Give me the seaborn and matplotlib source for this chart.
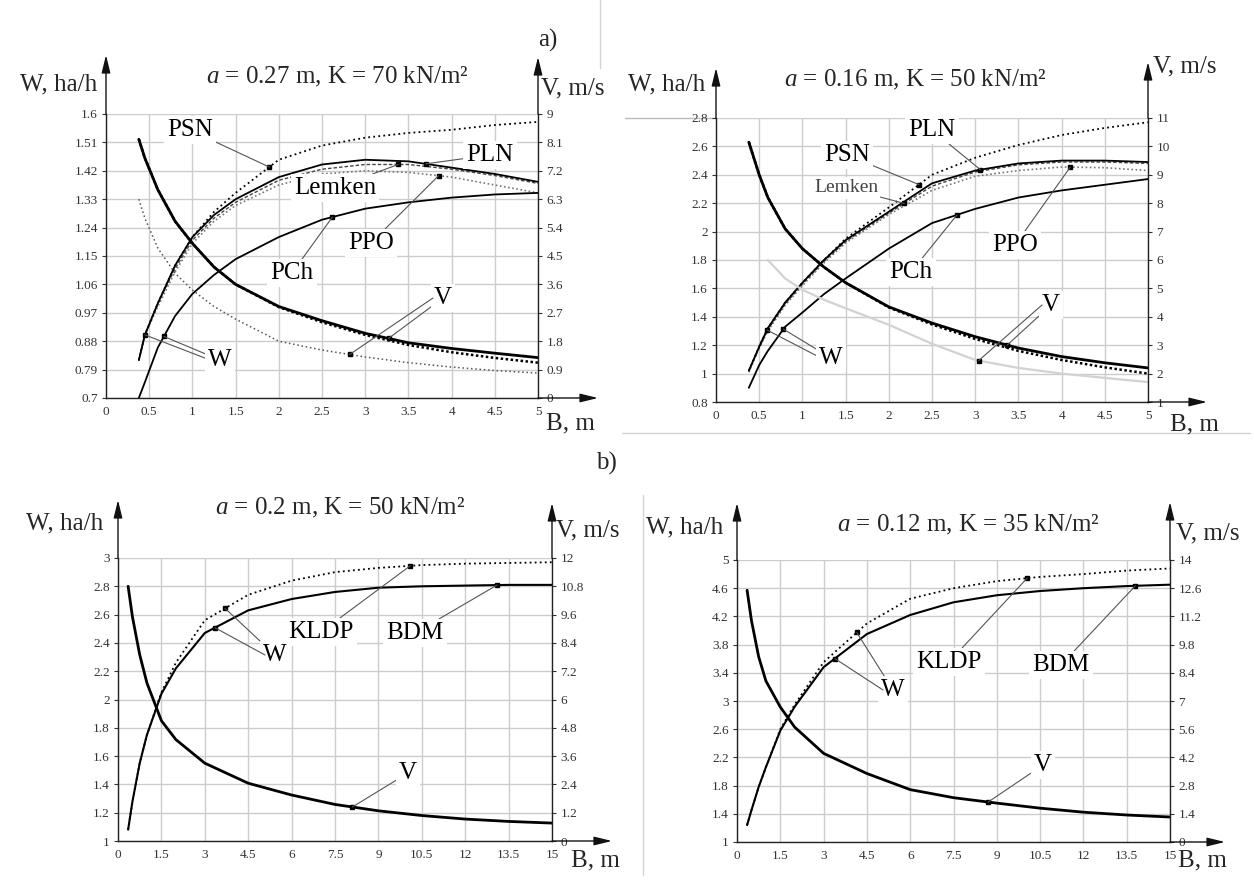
import numpy as np
import matplotlib
matplotlib.use("Agg")
import matplotlib.pyplot as plt
import seaborn as sns

# ---------------- data: a) left, a = 0.27 m, K = 70 kN/m2
a1_B = [0.38, 0.45, 0.6, 0.8, 1.0, 1.25, 1.5, 2.0, 2.5, 3.0, 3.5, 4.0, 4.5, 5.0]
a1_W_PSN = [0.82, 0.90, 1.00, 1.12, 1.21, 1.29, 1.35, 1.455, 1.50, 1.525, 1.54, 1.55, 1.565, 1.575]
a1_W_PLN = [0.82, 0.90, 1.00, 1.12, 1.21, 1.28, 1.33, 1.40, 1.44, 1.455, 1.45, 1.43, 1.41, 1.385]
a1_W_Lemken = [0.82, 0.90, 1.00, 1.11, 1.20, 1.27, 1.32, 1.39, 1.425, 1.44, 1.44, 1.425, 1.405, 1.38]
a1_W_PPO = [0.82, 0.90, 0.99, 1.10, 1.19, 1.26, 1.31, 1.375, 1.41, 1.42, 1.415, 1.40, 1.375, 1.35]
a1_W_PCh = [0.70, 0.75, 0.86, 0.96, 1.03, 1.09, 1.14, 1.21, 1.265, 1.30, 1.32, 1.335, 1.345, 1.35]
a1_V_1 = [8.2, 7.6, 6.6, 5.6, 4.9, 4.15, 3.6, 2.9, 2.45, 2.05, 1.75, 1.57, 1.42, 1.28]
a1_V_2 = [8.2, 7.6, 6.6, 5.6, 4.9, 4.15, 3.6, 2.88, 2.40, 2.0, 1.68, 1.45, 1.27, 1.12]
a1_V_3 = [6.3, 5.7, 4.75, 3.95, 3.42, 2.9, 2.5, 1.8, 1.52, 1.30, 1.12, 0.98, 0.87, 0.79]

# ---------------- data: a) right, a = 0.16 m, K = 50 kN/m2
a2_B = [0.38, 0.5, 0.6, 0.8, 1.0, 1.25, 1.5, 2.0, 2.5, 3.0, 3.5, 4.0, 4.5, 5.0]
a2_W_PSN = [1.02, 1.19, 1.32, 1.50, 1.64, 1.80, 1.95, 2.17, 2.40, 2.52, 2.61, 2.68, 2.73, 2.77]
a2_W_PLN = [1.02, 1.19, 1.32, 1.50, 1.64, 1.80, 1.94, 2.14, 2.34, 2.43, 2.48, 2.50, 2.50, 2.49]
a2_W_Lemken = [1.02, 1.18, 1.31, 1.49, 1.63, 1.79, 1.93, 2.13, 2.32, 2.42, 2.47, 2.49, 2.49, 2.48]
a2_W_PPO = [1.01, 1.18, 1.30, 1.48, 1.62, 1.78, 1.92, 2.12, 2.29, 2.39, 2.43, 2.455, 2.45, 2.43]
a2_W_PCh = [0.90, 1.06, 1.16, 1.33, 1.43, 1.56, 1.67, 1.88, 2.06, 2.16, 2.24, 2.29, 2.33, 2.37]
a2_V_1 = [10.15, 9.0, 8.2, 7.1, 6.4, 5.75, 5.2, 4.35, 3.78, 3.3, 2.9, 2.6, 2.38, 2.2]
a2_V_2 = [10.15, 9.0, 8.2, 7.1, 6.4, 5.75, 5.2, 4.33, 3.73, 3.22, 2.8, 2.48, 2.22, 2.0]
a2_B_faint = [0.6, 0.8, 1.0, 1.25, 1.5, 2.0, 2.5, 3.0, 3.5, 4.0, 4.5, 5.0]
a2_V_faint = [6.0, 5.35, 4.95, 4.6, 4.3, 3.72, 3.05, 2.48, 2.2, 2.0, 1.85, 1.7]

# ---------------- data: b) left, a = 0.2 m, K = 50 kN/m2
b1_B = [0.35, 0.5, 0.75, 1.0, 1.5, 2.0, 3.0, 4.5, 6.0, 7.5, 9.0, 10.5, 12.0, 13.5, 15.0]
b1_W_KLDP = [1.08, 1.28, 1.55, 1.75, 2.05, 2.26, 2.56, 2.74, 2.84, 2.90, 2.93, 2.95, 2.96, 2.965, 2.97]
b1_W_BDM = [1.08, 1.28, 1.55, 1.75, 2.04, 2.22, 2.47, 2.63, 2.71, 2.76, 2.79, 2.80, 2.805, 2.81, 2.81]
b1_V = [10.8, 9.5, 7.9, 6.7, 5.1, 4.3, 3.3, 2.45, 1.95, 1.55, 1.28, 1.08, 0.93, 0.83, 0.76]

# ---------------- data: b) right, a = 0.12 m, K = 35 kN/m2
b2_B = [0.35, 0.5, 0.75, 1.0, 1.5, 2.0, 3.0, 4.5, 6.0, 7.5, 9.0, 10.5, 12.0, 13.5, 15.0]
b2_W_KLDP = [1.24, 1.45, 1.78, 2.06, 2.60, 2.95, 3.55, 4.10, 4.45, 4.60, 4.70, 4.76, 4.80, 4.85, 4.88]
b2_W_BDM = [1.24, 1.45, 1.78, 2.06, 2.58, 2.92, 3.48, 3.95, 4.22, 4.40, 4.50, 4.56, 4.60, 4.63, 4.65]
b2_V = [12.5, 11.0, 9.2, 8.0, 6.7, 5.7, 4.4, 3.4, 2.6, 2.2, 1.93, 1.68, 1.48, 1.34, 1.24]

# ticks
a1_xt = ['0', '0.5', '1', '1.5', '2', '2.5', '3', '3.5', '4', '4.5', '5']
a1_wt = ['0.7', '0.79', '0.88', '0.97', '1.06', '1.15', '1.24', '1.33', '1.42', '1.51', '1.6']
a1_vt = ['0', '0.9', '1.8', '2.7', '3.6', '4.5', '5.4', '6.3', '7.2', '8.1', '9']
a2_wt = ['0.8', '1', '1.2', '1.4', '1.6', '1.8', '2', '2.2', '2.4', '2.6', '2.8']
a2_vt = ['1', '2', '3', '4', '5', '6', '7', '8', '9', '10', '11']
b_xt = ['0', '1.5', '3', '4.5', '6', '7.5', '9', '10.5', '12', '13.5', '15']
b1_wt = ['1', '1.2', '1.4', '1.6', '1.8', '2', '2.2', '2.4', '2.6', '2.8', '3']
b1_vt = ['0', '1.2', '2.4', '3.6', '4.8', '6', '7.2', '8.4', '9.6', '10.8', '12']
b2_wt = ['1', '1.4', '1.8', '2.2', '2.6', '3', '3.4', '3.8', '4.2', '4.6', '5']
b2_vt = ['0', '1.4', '2.8', '4.2', '5.6', '7', '8.4', '9.8', '11.2', '12.6', '14']

W_PX, H_PX = 1254, 881
sns.set_theme(style="white")
plt.rcParams['font.family'] = ['Liberation Serif', 'DejaVu Serif']
plt.rcParams['mathtext.fontset'] = 'custom'
plt.rcParams['mathtext.rm'] = 'Liberation Serif'
plt.rcParams['mathtext.it'] = 'Liberation Serif:italic'

fig = plt.figure(figsize=(W_PX / 100, H_PX / 100), dpi=100)


def panel(x0, x1, ytop, ybot, xt, wt, vt, arrow_l, arrow_r, arrow_x):
    ax = fig.add_axes([x0 / W_PX, 1 - ybot / H_PX, (x1 - x0) / W_PX, (ybot - ytop) / H_PX])
    axv = ax.twinx()
    xv = [float(t) for t in xt]
    wv = [float(t) for t in wt]
    vv = [float(t) for t in vt]
    ax.set_xlim(xv[0], xv[-1])
    ax.set_ylim(wv[0], wv[-1])
    axv.set_ylim(vv[0], vv[-1])
    ax.set_xticks(xv)
    ax.set_xticklabels(xt, fontsize=9.5, color='#333')
    ax.set_yticks(wv)
    ax.set_yticklabels(wt, fontsize=9.5, color='#333')
    axv.set_yticks(vv)
    axv.set_yticklabels(vt, fontsize=9.5, color='#333')
    ax.grid(True, color='#cccccc', lw=1.0)
    axv.grid(False)
    for a in (ax, axv):
        a.tick_params(length=3, width=0.8, pad=3, colors='#333')
        for s in a.spines.values():
            s.set_visible(False)
    ax.spines['left'].set_visible(True)
    ax.spines['bottom'].set_visible(True)
    axv.spines['right'].set_visible(True)
    for s in (ax.spines['left'], ax.spines['bottom'], axv.spines['right']):
        s.set_color('#222')
        s.set_linewidth(1.0)
    ap = dict(arrowstyle='-|>,head_length=0.9,head_width=0.22', color='#111', lw=1.0,
              shrinkA=0, shrinkB=0)
    fig_ann = dict(xycoords='figure pixels', textcoords='figure pixels', arrowprops=ap)
    axv.annotate('', xy=(x0, H_PX - arrow_l), xytext=(x0, H_PX - ytop), **fig_ann)
    axv.annotate('', xy=(x1, H_PX - arrow_r), xytext=(x1, H_PX - ytop), **fig_ann)
    axv.annotate('', xy=(arrow_x, H_PX - ybot), xytext=(x1, H_PX - ybot), **fig_ann)
    return ax, axv


def curve(ax, x, y, **kw):
    sns.lineplot(x=x, y=y, ax=ax, sort=False, legend=False, **kw)


def tag(host, dax, text, xm, cx, cy, px, py, fs=18, color='black', draw_text=True):
    ym = np.interp(xm, cx, cy)
    dax.plot([xm], [ym], 's', color='black', ms=3.5, zorder=6)
    host.annotate(text if draw_text else '', xy=(xm, ym), xycoords=dax.transData,
                  xytext=(px, H_PX - py), textcoords='figure pixels',
                  ha='center', va='center', fontsize=fs, color=color, zorder=8,
                  bbox=dict(boxstyle='square,pad=0.12', fc='white', ec='none') if draw_text else None,
                  arrowprops=dict(arrowstyle='-', color='#555', lw=0.8, shrinkA=0, shrinkB=0))


def ftext(px, py, s, ha='center', fs=18, **kw):
    fig.text(px / W_PX, 1 - py / H_PX, s, ha=ha, va='center', fontsize=fs, **kw)


def fline(xs, ys, color='#d4d4d4'):
    # thin frame lines of the original page
    fig.add_artist(plt.Line2D([x / W_PX for x in xs], [1 - y / H_PX for y in ys],
                              color=color, lw=1.0, zorder=0))


solid = dict(color='black', lw=1.3)
dotted = dict(color='black', lw=1.3, linestyle=(0, (1, 1.8)))
dashed = dict(color='#444', lw=1.0, linestyle=(0, (2.5, 1.5)))
grey_dot = dict(color='#777', lw=1.2, linestyle=(0, (1, 1.5)))
v_thick = dict(color='black', lw=2.0)
v_dot = dict(color='black', lw=1.8, linestyle=(0, (1, 1)))
v_thin = dict(color='#555', lw=1.1, linestyle=(0, (1, 1.8)))

# ---------------- a) left
ax, axv = panel(106, 538, 114, 398, a1_xt, a1_wt, a1_vt, 55, 57, 598)
curve(ax, a1_B, a1_W_PSN, **dotted)
curve(ax, a1_B, a1_W_PPO, **grey_dot)
curve(ax, a1_B, a1_W_Lemken, **dashed)
curve(ax, a1_B, a1_W_PLN, **solid)
curve(ax, a1_B, a1_W_PCh, **solid)
curve(axv, a1_B, a1_V_3, **v_thin)
curve(axv, a1_B, a1_V_2, **v_dot)
curve(axv, a1_B, a1_V_1, **v_thick)
tag(axv, ax, 'PSN', 1.89, a1_B, a1_W_PSN, 190, 130)
tag(axv, ax, 'PLN', 3.7, a1_B, a1_W_PLN, 490, 155)
tag(axv, ax, 'Lemken', 3.38, a1_B, a1_W_Lemken, 335, 188)
tag(axv, ax, 'PPO', 3.85, a1_B, a1_W_PPO, 371, 243)
tag(axv, ax, 'PCh', 2.62, a1_B, a1_W_PCh, 292, 273)
tag(axv, ax, 'W', 0.45, a1_B, a1_W_PLN, 210, 360, draw_text=False)
tag(axv, ax, 'W', 0.67, a1_B, a1_W_PCh, 220, 360)
tag(axv, axv, 'V', 3.27, a1_B, a1_V_1, 443, 298)
tag(axv, axv, 'V', 2.82, a1_B, a1_V_3, 433, 298, draw_text=False)
ftext(337, 77, r'$a$ = 0.27 m, K = 70 kN/m²')
ftext(97, 84, 'W, ha/h', ha='right')
ftext(541, 88, 'V, m/s', ha='left')
ftext(546, 423, 'B, m', ha='left')

# ---------------- a) right
ax, axv = panel(716, 1148, 118, 402, a1_xt, a2_wt, a2_vt, 68, 62, 1207)
curve(ax, a2_B, a2_W_PSN, **dotted)
curve(ax, a2_B, a2_W_PPO, **grey_dot)
curve(ax, a2_B, a2_W_Lemken, **dashed)
curve(ax, a2_B, a2_W_PLN, **solid)
curve(ax, a2_B, a2_W_PCh, **solid)
curve(axv, a2_B_faint, a2_V_faint, color='#d2d2d2', lw=1.6)
curve(axv, a2_B, a2_V_2, **v_dot)
curve(axv, a2_B, a2_V_1, **v_thick)
tag(axv, ax, 'PLN', 3.06, a2_B, a2_W_PLN, 932, 130)
tag(axv, ax, 'PSN', 2.35, a2_B, a2_W_PSN, 847, 155)
tag(axv, ax, 'Lemken', 2.18, a2_B, a2_W_Lemken, 846, 188, fs=14, color='#444')
tag(axv, ax, 'PCh', 2.79, a2_B, a2_W_PCh, 911, 272)
tag(axv, ax, 'PPO', 4.1, a2_B, a2_W_PPO, 1015, 245)
tag(axv, ax, 'W', 0.59, a2_B, a2_W_PSN, 821, 358, draw_text=False)
tag(axv, ax, 'W', 0.78, a2_B, a2_W_PCh, 831, 358)
tag(axv, axv, 'V', 3.37, a2_B, a2_V_1, 1051, 305)
tag(axv, axv, 'V', 3.04, a2_B_faint, a2_V_faint, 1042, 305, draw_text=False)
ftext(915, 80, r'$a$ = 0.16 m, K = 50 kN/m²')
ftext(705, 84, 'W, ha/h', ha='right')
ftext(1153, 66, 'V, m/s', ha='left')
ftext(1170, 424, 'B, m', ha='left')

# ---------------- b) left
ax, axv = panel(118, 552, 558, 841, b_xt, b1_wt, b1_vt, 500, 503, 612)
curve(ax, b1_B, b1_W_KLDP, **dotted)
curve(ax, b1_B, b1_W_BDM, color='black', lw=1.5)
curve(axv, b1_B, b1_V, **v_thick)
tag(axv, ax, 'KLDP', 10.1, b1_B, b1_W_KLDP, 321, 632)
tag(axv, ax, 'BDM', 13.1, b1_B, b1_W_BDM, 415, 633)
tag(axv, ax, 'W', 3.7, b1_B, b1_W_KLDP, 275, 655)
tag(axv, ax, 'W', 3.35, b1_B, b1_W_BDM, 265, 655, draw_text=False)
tag(axv, axv, 'V', 8.1, b1_B, b1_V, 408, 773)
ftext(340, 508, r'$a$ = 0.2 m, K = 50 kN/m²')
ftext(103, 523, 'W, ha/h', ha='right')
ftext(556, 530, 'V, m/s', ha='left')
ftext(571, 860, 'B, m', ha='left')

# ---------------- b) right
ax, axv = panel(737, 1170, 560, 842, b_xt, b2_wt, b2_vt, 503, 502, 1225)
curve(ax, b2_B, b2_W_KLDP, **dotted)
curve(ax, b2_B, b2_W_BDM, color='black', lw=1.5)
curve(axv, b2_B, b2_V, **v_thick)
tag(axv, ax, 'KLDP', 10.05, b2_B, b2_W_KLDP, 949, 662)
tag(axv, ax, 'BDM', 13.8, b2_B, b2_W_BDM, 1061, 665)
tag(axv, ax, 'W', 4.15, b2_B, b2_W_KLDP, 893, 690)
tag(axv, ax, 'W', 3.39, b2_B, b2_W_BDM, 883, 690, draw_text=False)
tag(axv, axv, 'V', 8.7, b2_B, b2_V, 1043, 765)
ftext(968, 525, r'$a$ = 0.12 m, K = 35 kN/m²')
ftext(723, 527, 'W, ha/h', ha='right')
ftext(1176, 533, 'V, m/s', ha='left')
ftext(1178, 860, 'B, m', ha='left')

ftext(548, 40, 'a)')
ftext(606, 463, 'b)')

# frame remnants of the scanned page
fline([600, 600], [0, 68])
fline([625, 716], [118, 118], color='#bbbbbb')
fline([622, 1250], [433, 433])
fline([643, 643], [495, 875])

fig.savefig('out.png', dpi=100)
